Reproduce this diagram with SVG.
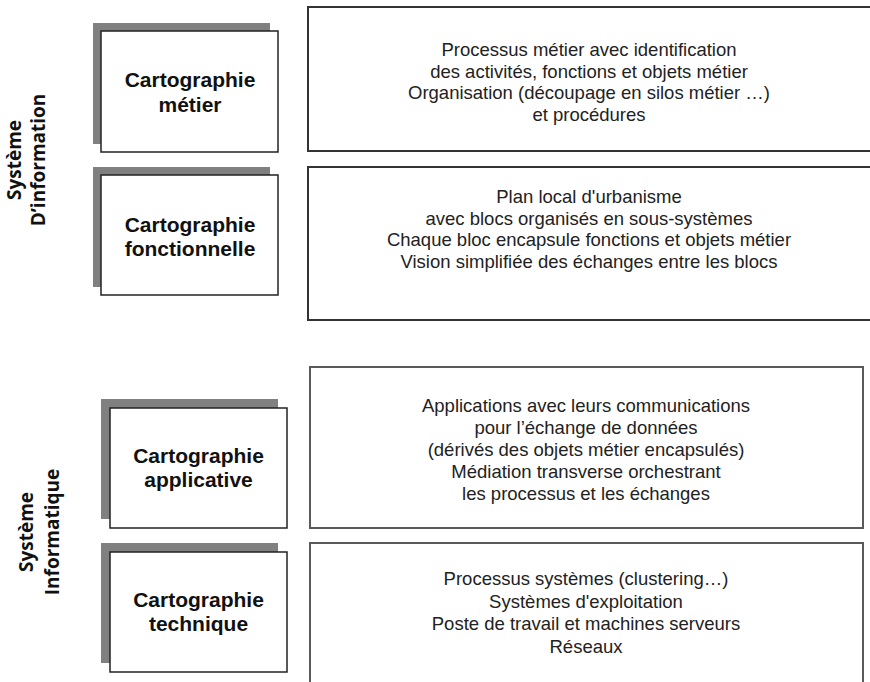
<svg xmlns="http://www.w3.org/2000/svg" width="870" height="682" viewBox="0 0 870 682">
  <style>
    .shadow { fill: #808080; }
    .card { fill: #ffffff; stroke: #222222; stroke-width: 1.5; }
    .panel { fill: #ffffff; stroke: #333333; stroke-width: 2; }
    .panel-lo { fill: #ffffff; stroke: #5a5a5a; stroke-width: 2; }
    .title { font-family: "Liberation Sans", Arial, sans-serif; font-weight: bold; font-size: 21px; fill: #111111; text-anchor: middle; }
    .desc { font-family: "Liberation Sans", Arial, sans-serif; font-size: 18.5px; fill: #222222; text-anchor: middle; }
    .side { font-family: "Open Sans", "Liberation Sans", sans-serif; font-weight: bold; font-size: 19px; fill: #111111; text-anchor: middle; }
  </style>

  <rect width="870" height="682" fill="#ffffff"/>

  <!-- side captions -->
  <g id="label-systeme-information">
    <text class="side" transform="translate(21,160) rotate(-90)">Système</text>
    <text class="side" transform="translate(45,160) rotate(-90)">D’information</text>
  </g>
  <g id="label-systeme-informatique">
    <text class="side" transform="translate(33,532) rotate(-90)">Système</text>
    <text class="side" transform="translate(59,532) rotate(-90)">Informatique</text>
  </g>

  <!-- cartography cards -->
  <g id="carto-metier">
    <rect class="shadow" x="93" y="23" width="177" height="121"/>
    <rect class="card" x="101" y="31" width="177" height="121"/>
    <text class="title" x="190" y="87">Cartographie</text>
    <text class="title" x="190" y="112">métier</text>
  </g>
  <g id="carto-fonctionnelle">
    <rect class="shadow" x="93" y="167" width="177" height="120"/>
    <rect class="card" x="101" y="175" width="177" height="120"/>
    <text class="title" x="190" y="232">Cartographie</text>
    <text class="title" x="190" y="256">fonctionnelle</text>
  </g>
  <g id="carto-applicative">
    <rect class="shadow" x="101" y="399" width="177" height="120"/>
    <rect class="card" x="110" y="408" width="177" height="120"/>
    <text class="title" x="198.5" y="463">Cartographie</text>
    <text class="title" x="198.5" y="487">applicative</text>
  </g>
  <g id="carto-technique">
    <rect class="shadow" x="101" y="543" width="177" height="120"/>
    <rect class="card" x="110" y="552" width="177" height="120"/>
    <text class="title" x="198.5" y="607">Cartographie</text>
    <text class="title" x="198.5" y="631">technique</text>
  </g>

  <!-- description panels -->
  <g id="desc-metier">
    <rect class="panel" x="308" y="7" width="580" height="144"/>
    <text class="desc" x="589" y="56">Processus métier avec identification</text>
    <text class="desc" x="589" y="77.5">des activités, fonctions et objets métier</text>
    <text class="desc" x="589" y="99">Organisation (découpage en silos métier …)</text>
    <text class="desc" x="589" y="120.5">et procédures</text>
  </g>
  <g id="desc-fonctionnelle">
    <rect class="panel" x="308" y="167" width="580" height="153"/>
    <text class="desc" x="589" y="203">Plan local d'urbanisme</text>
    <text class="desc" x="589" y="224.5">avec blocs organisés en sous-systèmes</text>
    <text class="desc" x="589" y="246">Chaque bloc encapsule fonctions et objets métier</text>
    <text class="desc" x="589" y="267.5">Vision simplifiée des échanges entre les blocs</text>
  </g>
  <g id="desc-applicative">
    <rect class="panel-lo" x="310" y="367" width="553" height="161"/>
    <text class="desc" x="586" y="412">Applications avec leurs communications</text>
    <text class="desc" x="586" y="434">pour l’échange de données</text>
    <text class="desc" x="586" y="456">(dérivés des objets métier encapsulés)</text>
    <text class="desc" x="586" y="478">Médiation transverse orchestrant</text>
    <text class="desc" x="586" y="500">les processus et les échanges</text>
  </g>
  <g id="desc-technique">
    <rect class="panel-lo" x="310" y="543" width="553" height="160"/>
    <text class="desc" x="586" y="585">Processus systèmes (clustering…)</text>
    <text class="desc" x="586" y="607.5">Systèmes d'exploitation</text>
    <text class="desc" x="586" y="630">Poste de travail et machines serveurs</text>
    <text class="desc" x="586" y="652.5">Réseaux</text>
  </g>

  <!-- no connectors in this figure -->
  <g id="connectors"/>
</svg>
